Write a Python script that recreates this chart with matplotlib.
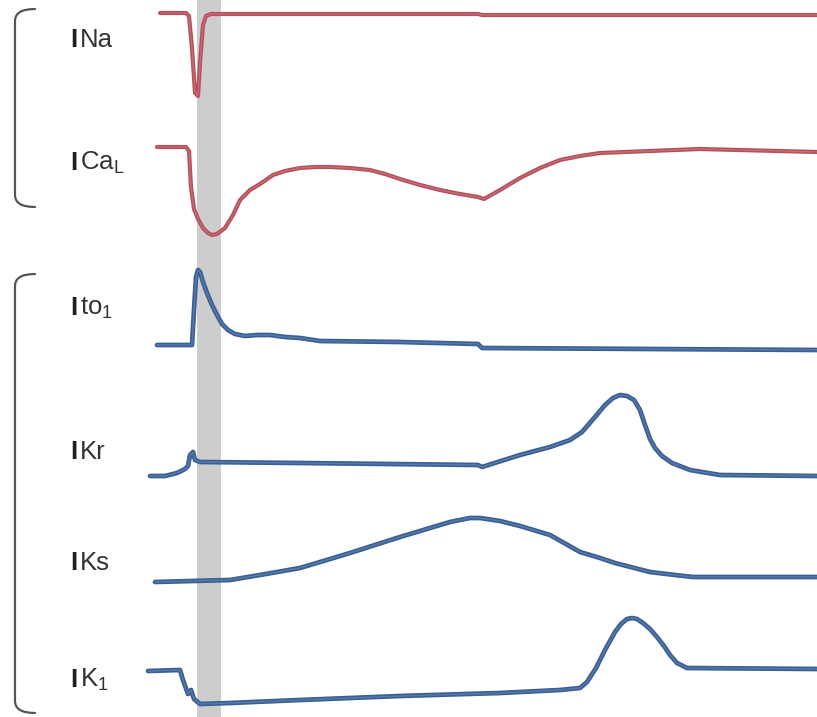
import numpy as np
import matplotlib
matplotlib.use('Agg')
import matplotlib.pyplot as plt
from matplotlib.path import Path
from matplotlib.patches import PathPatch

plt.rcParams['font.family'] = ['Liberation Sans', 'DejaVu Sans']
plt.rcParams['mathtext.fontset'] = 'custom'
plt.rcParams['mathtext.rm'] = 'Liberation Sans'

# time in ms, t = 0 at the start of the stimulus window
stim_start, stim_end = 0, 24

# currents in arbitrary units relative to each trace's resting level
# (positive = outward / drawn up, negative = inward / drawn down)
t_na = [-37, -11, -8, -5, -2, 1, 3, 6, 9, 14, 281, 285, 620]
i_na = [0, 0, -3, -35, -80, -83, -50, -12, -3, -1, -1, -2, -2]

t_cal = [-40, -11, -8, -6, -3, 1, 6, 11, 15, 20, 28, 36, 43, 53, 63, 76, 88,
         103, 118, 133, 153, 173, 188, 203, 223, 243, 263, 281, 287, 303, 323,
         343, 363, 383, 403, 453, 503, 620]
i_cal = [0, 0, -4, -40, -62, -72, -81, -86, -88, -87, -81, -68, -53, -43, -37,
         -28, -24, -21, -20, -20, -21, -23, -27, -32, -38, -43, -47, -50, -52,
         -43, -31, -21, -13, -9, -6, -4, -2, -5]

t_to1 = [-40, -5, -3, -1, 1, 3, 6, 10, 15, 20, 25, 31, 38, 48, 60, 73, 88, 103,
         123, 203, 281, 285, 620]
i_to1 = [0, 0, 35, 68, 75, 73, 63, 52, 40, 30, 21, 15, 11, 9, 10, 10, 8, 7,
         4, 3, 1, -3, -5]

t_kr = [-47, -32, -20, -12, -9, -7, -4, -2, 3, 103, 281, 285, 323, 353, 373,
        385, 398, 408, 416, 423, 430, 437, 443, 448, 453, 458, 465, 475, 493,
        523, 620]
i_kr = [-14, -14, -11, -7, -4, 7, 10, 2, 0, -1, -3, -5, 7, 15, 22, 30, 45,
        57, 64, 67, 66, 62, 52, 37, 23, 14, 6, -1, -8, -13, -14]

t_ks = [-42, 33, 63, 103, 153, 203, 233, 253, 273, 283, 303, 323, 353, 383,
        403, 418, 453, 478, 496, 620]
i_ks = [-2, 0, 5, 12, 27, 43, 52, 58, 62, 62, 59, 54, 45, 28, 22, 17, 8, 5,
        3, 3]

t_k1 = [-49, -17, -14, -9, -6, -3, 3, 33, 103, 203, 303, 363, 383, 390, 399,
        408, 418, 424, 430, 435, 440, 446, 453, 460, 467, 473, 480, 490, 620]
i_k1 = [-1, 0, -10, -24, -20, -29, -34, -33, -30, -26, -23, -20, -18, -12,
        2, 20, 38, 46, 51, 52, 51, 47, 41, 33, 24, 15, 7, 2, 1]

# (channel name, subscript) for each current
names = [('Na', ''), ('Ca', 'L'), ('to', '1'), ('Kr', ''), ('Ks', ''), ('K', '1')]
traces = [(t_na, i_na), (t_cal, i_cal), (t_to1, i_to1),
          (t_kr, i_kr), (t_ks, i_ks), (t_k1, i_k1)]

# resting level of each trace and label height, in canvas units from the top
levels = [13, 147, 345, 462, 580, 670]
label_y = [40, 163, 308, 452, 563, 680]

inward = ('#b54f5b', '#da8c92')
outward = ('#3b5f92', '#7096c4')
colors = [inward, inward, outward, outward, outward, outward]
widths = [3.0, 3.0, 3.4, 3.4, 3.4, 3.4]

fig = plt.figure(figsize=(8.17, 7.17), dpi=100)
ax = fig.add_axes([0, 0, 1, 1])
ax.set_xlim(-197, 620)
ax.set_ylim(-717, 0)
ax.axis('off')

# stimulus window
ax.axvspan(stim_start, stim_end, color='#cdcdcd', zorder=0, lw=0)

for (t, cur), lev, (dark, light), lw in zip(traces, levels, colors, widths):
    y = -lev + np.asarray(cur, dtype=float)
    ax.plot(t, y, color=dark, lw=lw, solid_joinstyle='round',
            solid_capstyle='round', zorder=2)
    ax.plot(t, y, color=light, lw=lw * 0.3, alpha=0.5,
            solid_joinstyle='round', solid_capstyle='round', zorder=3)

# labels: bold "I" followed by the channel name
lx = -127
for (main, sub), ly in zip(names, label_y):
    ax.text(lx, -ly, 'I', fontsize=18.5, fontweight='bold', color='#1e1e1e',
            va='center', ha='left')
    s = main if not sub else main + r'$_{\mathrm{' + sub + '}}$'
    ax.text(lx + 10, -ly, s, fontsize=18.5, color='#333333',
            va='center', ha='left')


def bracket(top, bottom, x=-182, arm=20, r=12):
    verts = [(x + arm, -top), (x, -top), (x, -top - r),
             (x, -bottom + r), (x, -bottom), (x + arm, -bottom)]
    codes = [Path.MOVETO, Path.CURVE3, Path.CURVE3,
             Path.LINETO, Path.CURVE3, Path.CURVE3]
    ax.add_patch(PathPatch(Path(verts, codes), fill=False,
                           edgecolor='#555555', lw=1.6, capstyle='round'))


# inward currents and outward currents
bracket(9, 207)
bracket(274, 713)

fig.savefig('out.png', dpi=100)
